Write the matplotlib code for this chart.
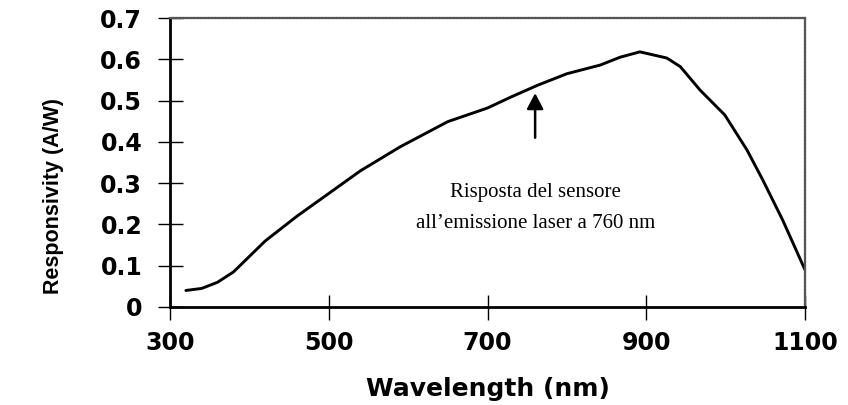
import matplotlib
matplotlib.use("Agg")
import matplotlib.pyplot as plt

# Spectral responsivity of the silicon sensor
wavelength_nm = [320, 340, 360, 380, 420, 460, 500, 540, 590, 650, 700, 730, 763,
                 800, 842, 867, 892, 926, 943, 968, 999, 1027, 1047, 1072, 1100]
responsivity = [0.040, 0.045, 0.060, 0.085, 0.160, 0.220, 0.275, 0.330, 0.388, 0.449,
                0.482, 0.509, 0.537, 0.565, 0.586, 0.605, 0.618, 0.603, 0.582, 0.525,
                0.465, 0.380, 0.307, 0.210, 0.090]

x_ticks = [300, 500, 700, 900, 1100]
y_ticks = [0, 0.1, 0.2, 0.3, 0.4, 0.5, 0.6, 0.7]
y_tick_labels = ["0", "0.1", "0.2", "0.3", "0.4", "0.5", "0.6", "0.7"]
laser_nm = 760
note_lines = ["Risposta del sensore", "all\u2019emissione laser a 760 nm"]

fig = plt.figure(figsize=(8.48, 4.05), dpi=100)
ax = fig.add_axes([170 / 848, 1 - 307 / 405, (805 - 170) / 848, (307 - 18) / 405])

ax.plot(wavelength_nm, responsivity, color="black", lw=2.1, solid_capstyle="round")

ax.set_xlim(300, 1100)
ax.set_ylim(0, 0.7)
ax.set_xticks(x_ticks)
ax.set_yticks(y_ticks)
ax.set_yticklabels(y_tick_labels)
ax.tick_params(direction="inout", length=18, width=1.0, colors="black", labelsize=17)
ax.tick_params(axis="y", pad=11)
ax.tick_params(axis="x", pad=8)
for lab in ax.get_xticklabels() + ax.get_yticklabels():
    lab.set_family("DejaVu Sans")
    lab.set_weight("bold")

for side in ("left", "bottom"):
    ax.spines[side].set_linewidth(2.0)
for side in ("top", "right"):
    ax.spines[side].set_linewidth(1.6)
    ax.spines[side].set_color("#555555")
    ax.spines[side].set_linestyle((0, (1, 0.6)))

ax.set_xlabel("Wavelength (nm)", fontsize=18, fontweight="bold",
              family="DejaVu Sans", labelpad=16)
ax.set_ylabel("Responsivity (A/W)", fontsize=15.5, fontweight="bold",
              family="Liberation Sans")
ax.yaxis.set_label_coords(-106 / 635, (307 - 196) / 289, transform=ax.transAxes)

# Arrow marking the laser emission line
laser_val = 0.518
ax.annotate("", xy=(laser_nm, laser_val), xytext=(laser_nm, 0.41),
            arrowprops=dict(arrowstyle="-|>,head_width=0.5,head_length=0.95",
                            mutation_scale=10, color="black", lw=1.8,
                            shrinkA=0, shrinkB=0))
ax.text(laser_nm, 0.278, note_lines[0], ha="center", va="center",
        family="Liberation Serif", fontsize=15)
ax.text(laser_nm, 0.203, note_lines[1], ha="center", va="center",
        family="Liberation Serif", fontsize=15)

fig.savefig("out.png", dpi=100, facecolor="white")
